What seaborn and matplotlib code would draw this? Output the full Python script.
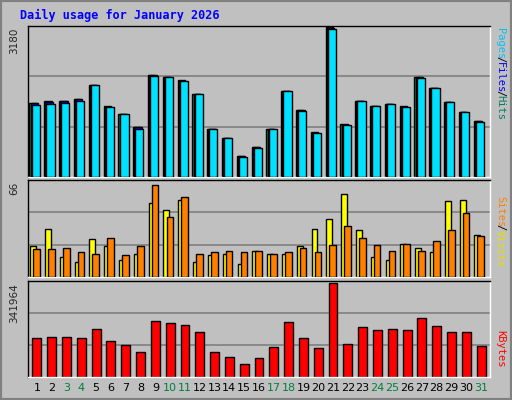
import numpy as np
import seaborn as sns
import matplotlib.pyplot as plt

sns.set_style('white')
plt.rcParams['font.family'] = ['DejaVu Sans']

days = list(range(1, 32))
weekend = [3, 4, 10, 11, 17, 18, 24, 25, 31]

hits = [1580, 1620, 1620, 1660, 1960, 1500, 1350, 1070, 2170, 2130, 2060, 1770, 1030, 840, 440, 630,
        1030, 1830, 1430, 950, 3180, 1120, 1620, 1520, 1560, 1500, 2130, 1900, 1600, 1390, 1200]
files = [1570, 1600, 1610, 1650, 1955, 1495, 1345, 1060, 2165, 2130, 2040, 1765, 1025, 835, 438, 628,
         1025, 1825, 1425, 945, 3170, 1115, 1615, 1515, 1555, 1495, 2125, 1895, 1595, 1385, 1190]
pages = [1540, 1560, 1580, 1620, 1950, 1490, 1340, 1030, 2140, 2120, 2050, 1760, 1020, 830, 435, 625,
         1020, 1820, 1410, 935, 3150, 1100, 1610, 1510, 1550, 1490, 2100, 1890, 1590, 1380, 1170]
visits = [21, 33, 14, 10, 26, 21, 12, 16, 51, 46, 53, 10, 15, 16, 9, 18,
          16, 16, 21, 33, 40, 57, 32, 14, 12, 23, 20, 17, 52, 53, 29]
sites = [19, 19, 20, 17, 16, 27, 15, 21, 63, 41, 55, 16, 17, 18, 17, 18,
         16, 17, 20, 17, 22, 35, 27, 22, 18, 23, 18, 25, 32, 44, 28]
kbytes = [143000, 147000, 147000, 143000, 173000, 129000, 118000, 92000, 202000, 195000, 188000,
          162000, 92000, 74000, 48000, 70000, 110000, 199000, 140000, 107000, 341964, 121000,
          180000, 169000, 173000, 169000, 213000, 184000, 165000, 162000, 114000]

W, H = 512, 400
fig = plt.figure(figsize=(W / 100, H / 100), dpi=100, facecolor='#c0c0c0')
x = np.array(days)

def panel(top, bottom, vmax):
    ax = fig.add_axes([28 / W, 1 - bottom / H, 462 / W, (bottom - top) / H])
    ax.set_facecolor('#c0c0c0')
    ax.set_xlim(0.4, 31.6)
    ax.set_ylim(0, vmax)
    for g in (vmax / 3, 2 * vmax / 3):
        ax.axhline(g, color='#808080', lw=1.2, zorder=0)
    ax.set_xticks([]); ax.set_yticks([])
    for s in ax.spines.values():
        s.set_color('black'); s.set_linewidth(1)
    ax.spines['bottom'].set_color('white')
    ax.spines['right'].set_color('white')
    return ax

ax1 = panel(26, 177, 3180 * 1.01)
ax1.bar(x - 0.25, hits, width=0.5, color='#00805c', edgecolor='black', lw=1, zorder=2)
ax1.bar(x - 0.17, files, width=0.5, color='#0000ff', edgecolor='black', lw=1, zorder=3)
ax1.bar(x - 0.08, pages, width=0.55, color='#00e0ff', edgecolor='black', lw=1, zorder=4)

ax2 = panel(180, 277, 66 * 1.01)
ax2.bar(x - 0.25, visits, width=0.4, color='#ffff00', edgecolor='black', lw=1, zorder=2)
ax2.bar(x - 0.02, sites, width=0.45, color='#ff8000', edgecolor='black', lw=1, zorder=3)

ax3 = panel(281, 377, 341964 * 1.02)
sns.barplot(x=x - 1, y=kbytes, native_scale=True, width=0.6, color='#ff0000',
            saturation=1, edgecolor='black', linewidth=1, ax=ax3, zorder=2)
ax3.set_xlim(-0.6, 30.6)
ax3.set_xticks([]); ax3.set_xlabel(''); ax3.set_ylabel('')

for d in days:
    fig.text((28 + (d - 0.4) * 462 / 31.2) / W, 1 - 388 / H, str(d), ha='center', va='center',
             fontsize=8, color='#008040' if d in weekend else 'black')

fig.text(20 / W, 1 - 15 / H, 'Daily usage for January 2026', color='#0000ff',
         family='DejaVu Sans Mono', fontweight='bold', fontsize=8.5, va='center')

for ytop, label in [(28, '3180'), (182, '66'), (283, '341964')]:
    fig.text(14 / W, 1 - ytop / H, label, rotation=90, ha='center', va='top', fontsize=7.5)

def side(ytop, parts):
    y = ytop
    for txt, col in parts:
        fig.text(500 / W, 1 - y / H, txt, rotation=270, ha='center', va='top', color=col,
                 family='DejaVu Sans Mono', fontsize=7.5)
        y += len(txt) * 5.6

side(28, [('Pages', '#00c0ff'), ('/', 'black'), ('Files', '#0000ff'), ('/', 'black'), ('Hits', '#008060')])
side(196, [('Sites', '#ff8000'), ('/', 'black'), ('Visits', '#e0e000')])
side(330, [('KBytes', '#ff0000')])

fig.add_artist(plt.Rectangle((0, 0), 1, 1, transform=fig.transFigure, fill=False,
                             edgecolor='#808080', lw=3))
fig.savefig('out.png', dpi=100, facecolor=fig.get_facecolor())
